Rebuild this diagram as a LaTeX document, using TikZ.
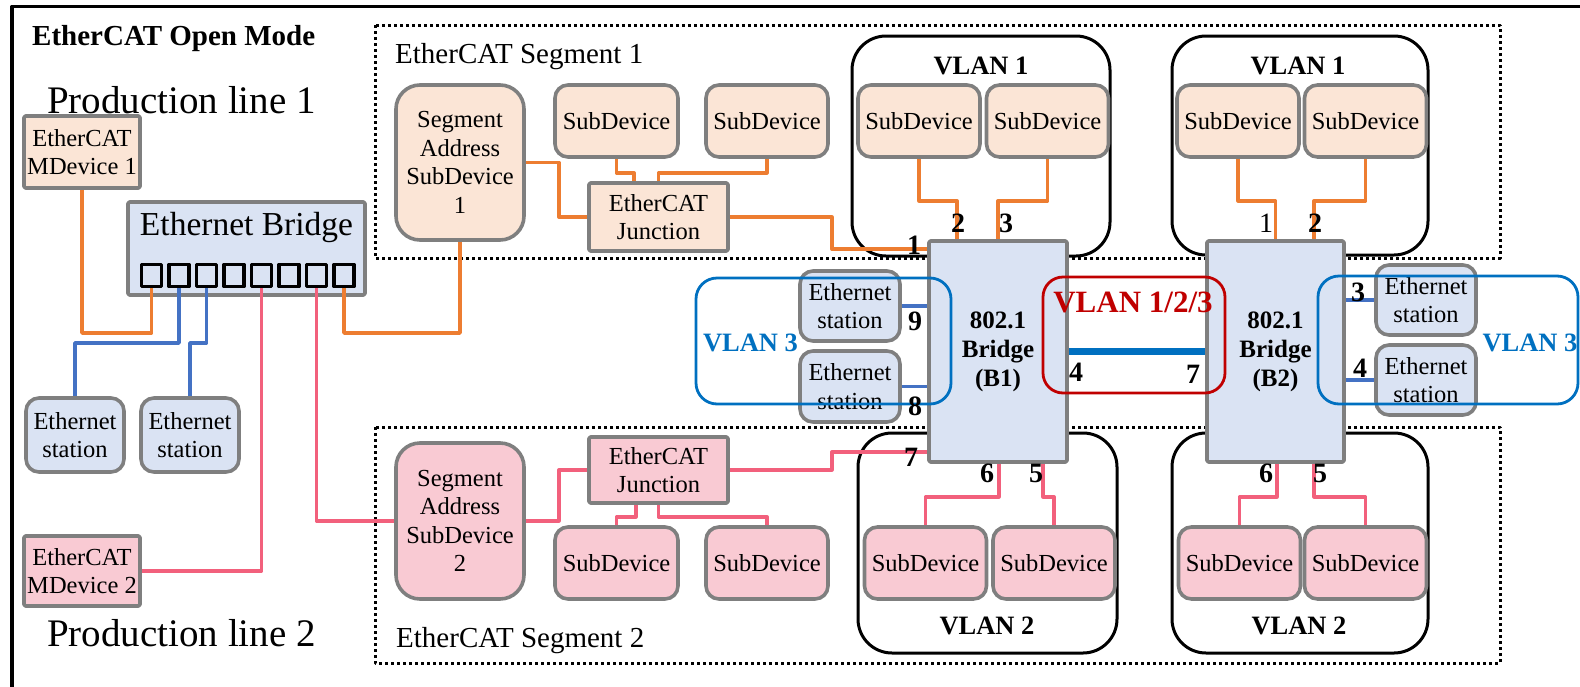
\documentclass[tikz,border=0pt]{standalone}
\usepackage{fontspec}
\setmainfont{Liberation Serif}
\usetikzlibrary{positioning}
\definecolor{olin}{HTML}{ED7D31}
\definecolor{blin}{HTML}{4472C4}
\definecolor{plin}{HTML}{F2607C}
\definecolor{ofil}{HTML}{FBE5D6}
\definecolor{bfil}{HTML}{DAE3F3}
\definecolor{pfil}{HTML}{F9CAD3}
\definecolor{gbrd}{HTML}{7F7F7F}
\definecolor{vblu}{HTML}{0070C0}
\definecolor{vred}{HTML}{C00000}
\begin{document}
\begin{tikzpicture}[x=1pt, y=-1pt, line join=round]
	\def\boxfont{\fontsize{24.5}{28.5}\selectfont}
	\def\brfont{\bfseries\fontsize{25}{29}\selectfont}
	\def\numfont{\bfseries\fontsize{28}{30}\selectfont}
	\def\vlanfont{\bfseries\fontsize{26.5}{30}\selectfont}
	\tikzset{dev/.style={draw=gbrd, line width=3.6pt, rounded corners=13pt, inner sep=0pt, align=center, font=\boxfont},
		sqdev/.style={dev, rounded corners=1.5pt},
		cnx/.style={line width=3.5pt},
		num/.style={inner sep=0pt, font=\numfont},
		lbl/.style={inner sep=0pt},
		vlan/.style={draw, line width=3pt, rounded corners=34pt, inner sep=0pt},
		cvlan/.style={line width=2.8pt, rounded corners=21pt, inner sep=0pt},
		seg/.style={line width=3pt, dash pattern=on 3pt off 3pt}}
	\useasboundingbox (0,0) rectangle (1580,686);
	\draw[line width=3.5pt] (12,700) -- (12,6.5) -- (1600,6.5);
	\draw[seg] (375,25) rectangle (1500,258);
	\draw[seg] (375,427) rectangle (1500,663);
	\node[lbl, font=\bfseries\fontsize{29}{32}\selectfont, anchor=base west] (ttl) at (32,45) {EtherCAT Open Mode};
	\node[lbl, font=\fontsize{39}{42}\selectfont, anchor=base west] (pl1) at (47,113) {Production line 1};
	\node[lbl, font=\fontsize{39}{42}\selectfont, anchor=base west] (pl2) at (47,646) {Production line 2};
	\node[lbl, font=\fontsize{29}{32}\selectfont, anchor=base west] (s1t) at (395,63) {EtherCAT Segment 1};
	\node[lbl, font=\fontsize{29}{32}\selectfont, anchor=base west] (s2t) at (396,647) {EtherCAT Segment 2};
	\node[sqdev, fill=ofil, minimum width=116pt, minimum height=72pt] (md1) at (82,152) {EtherCAT\\MDevice 1};
	\node[sqdev, fill=pfil, minimum width=116pt, minimum height=70pt] (md2) at (82,571) {EtherCAT\\MDevice 2};
	\node[sqdev, fill=bfil, minimum width=237pt, minimum height=93pt] (eb) at (246.5,248.5) {};
	\node[lbl, font=\fontsize{33.5}{36}\selectfont, anchor=base] (ebt) at (246.5,235) {Ethernet Bridge};
	\foreach \i in {1,...,8}
		\node[draw, line width=3.5pt, minimum width=20pt, minimum height=22pt, inner sep=0pt] (p\i) at ({151.5+27.5*(\i-1)},275.5) {};
	\node[dev, fill=bfil, minimum width=98pt, minimum height=74pt] (es1) at (75,435) {Ethernet\\station};
	\node[dev, fill=bfil, minimum width=98pt, minimum height=74pt] (es2) at (190,435) {Ethernet\\station};
	\node[dev, fill=ofil, rounded corners=24pt, minimum width=128pt, minimum height=155pt] (sa1) at (460,162.5) {Segment\\Address\\SubDevice\\1};
	\node[dev, fill=ofil, minimum width=123pt, minimum height=72pt] (sd1a) at (616.5,121) {SubDevice};
	\node[dev, fill=ofil, minimum width=122pt, minimum height=72pt] (sd1b) at (767,121) {SubDevice};
	\node[sqdev, fill=ofil, minimum width=139pt, minimum height=68pt] (jn1) at (658.5,217) {EtherCAT\\Junction};
	\node[dev, fill=pfil, rounded corners=24pt, minimum width=128pt, minimum height=156pt] (sa2) at (460,521) {Segment\\Address\\SubDevice\\2};
	\node[sqdev, fill=pfil, minimum width=139pt, minimum height=66pt] (jn2) at (658.5,470) {EtherCAT\\Junction};
	\node[dev, fill=pfil, minimum width=123pt, minimum height=72pt] (sd2a) at (616.5,563) {SubDevice};
	\node[dev, fill=pfil, minimum width=122pt, minimum height=72pt] (sd2b) at (767,563) {SubDevice};
	\node[vlan, minimum width=258pt, minimum height=220pt] (v1a) at (981,146) {};
	\node[vlan, minimum width=256pt, minimum height=219pt] (v1b) at (1300,145.5) {};
	\node[vlan, minimum width=259pt, minimum height=220pt] (v2a) at (987.5,543) {};
	\node[vlan, minimum width=256pt, minimum height=220pt] (v2b) at (1300,543) {};
	\node[lbl, font=\vlanfont] (v1at) at (981,66) {VLAN 1};
	\node[lbl, font=\vlanfont] (v1bt) at (1298,66) {VLAN 1};
	\node[lbl, font=\vlanfont] (v2at) at (987,626) {VLAN 2};
	\node[lbl, font=\vlanfont] (v2bt) at (1299,626) {VLAN 2};
	\foreach \n/\x/\y/\f in {v1sa/919/121/ofil, v1sb/1047.5/121/ofil, v1sc/1238/121/ofil, v1sd/1365.5/121/ofil, v2sa/925.5/563/pfil, v2sb/1054/563/pfil, v2sc/1239.5/563/pfil, v2sd/1365.5/563/pfil}
		\node[dev, fill=\f, minimum width=122pt, minimum height=72pt] (\n) at (\x,\y) {SubDevice};
	\node[sqdev, fill=bfil, minimum width=138pt, minimum height=221pt, font=\brfont] (b1) at (998,351.5) {802.1\\Bridge\\(B1)};
	\node[sqdev, fill=bfil, minimum width=137pt, minimum height=221pt, font=\brfont] (b2) at (1275.5,351.5) {802.1\\Bridge\\(B2)};
	\node[dev, fill=bfil, minimum width=100pt, minimum height=70pt] (es5) at (850,306) {Ethernet\\station};
	\node[dev, fill=bfil, minimum width=100pt, minimum height=71pt] (es6) at (850,386.5) {Ethernet\\station};
	\node[dev, fill=bfil, minimum width=100pt, minimum height=70pt] (es3) at (1426,300) {Ethernet\\station};
	\node[dev, fill=bfil, minimum width=100pt, minimum height=70pt] (es4) at (1426,380) {Ethernet\\station};
	\node[cvlan, draw=vblu, minimum width=255pt, minimum height=126pt] (v3a) at (823.5,341) {};
	\node[cvlan, draw=vblu, minimum width=260pt, minimum height=128pt] (v3b) at (1448,340) {};
	\node[cvlan, draw=vred, rounded corners=20pt, minimum width=182pt, minimum height=116pt] (v123) at (1134,335) {};
	\node[lbl, font=\vlanfont, text=vblu] (v3at) at (750.5,343) {VLAN 3};
	\node[lbl, font=\vlanfont, text=vblu] (v3bt) at (1530,343) {VLAN 3};
	\node[lbl, font=\bfseries\fontsize{31}{34}\selectfont, text=vred] (v123t) at (1133,302) {VLAN 1/2/3};
	\draw[cnx, olin] (p1.south) |- (md1.south |- 0,333) -- (md1.south);
	\draw[cnx, blin] (p2.south) |- (es1.north |- 0,343) -- (es1.north);
	\draw[cnx, blin] (p3.south) |- (es2.north |- 0,343) -- (es2.north);
	\draw[cnx, plin] (p5.south) |- (md2.east);
	\draw[cnx, plin] (p7.south) |- (sa2.west);
	\draw[cnx, olin] (p8.south) |- (sa1.south |- 0,333) -- (sa1.south);
	\draw[cnx, olin] (sa1.east) -- ++(33,0) |- (jn1.west);
	\draw[cnx, olin] (sd1a.south) -- ++(0,14) -| ([xshift=-24.5pt]jn1.north);
	\draw[cnx, olin] (sd1b.south) -- ++(0,14) -| (jn1.north);
	\draw[cnx, olin] (jn1.east) -- ++(102,0) |- (b1.north west |- 0,249);
	\draw[cnx, plin] (sa2.east) -- ++(33,0) |- (jn2.west);
	\draw[cnx, plin] ([xshift=-22.5pt]jn2.south) -- ++(0,12) -| (sd2a.north);
	\draw[cnx, plin] (jn2.south) -- ++(0,12) -| (sd2b.north);
	\draw[cnx, plin] (jn2.east) -- ++(102,0) |- (b1.south west |- 0,452);
	\draw[cnx, olin] (v1sa.south) -- ++(0,42) -| ([xshift=-41pt]b1.north);
	\draw[cnx, olin] (v1sb.south) -- ++(0,42) -| (b1.north);
	\draw[cnx, olin] (v1sc.south) -- ++(0,42) -| (b2.north);
	\draw[cnx, olin] (v1sd.south) -- ++(0,42) -| ([xshift=38.5pt]b2.north);
	\draw[cnx, plin] ([xshift=1pt]b1.south) -- ++(0,33) -| (v2sa.north);
	\draw[cnx, plin] ([xshift=45pt]b1.south) -- ++(0,33) -| (v2sb.north);
	\draw[cnx, plin] ([xshift=1.5pt]b2.south) -- ++(0,33) -| (v2sc.north);
	\draw[cnx, plin] ([xshift=38.5pt]b2.south) -- ++(0,33) -| (v2sd.north);
	\draw[cnx, blin] (es5.east) -- (es5.east -| b1.west);
	\draw[cnx, blin] (es6.east) -- (es6.east -| b1.west);
	\draw[cnx, blin] (b2.east |- es3.west) -- (es3.west);
	\draw[cnx, blin] (b2.east |- es4.west) -- (es4.west);
	\draw[line width=7pt, vblu] (b1.east) -- (b2.west);
	\foreach \t/\x/\y [count=\k] in {1/914/245, 2/958/223, 3/1006/223, 2/1315/223, 9/915/321, 8/915/406, 4/1076/372, 7/1193/374, 3/1358/292, 4/1360/368, 7/911/457, 6/987/473, 5/1036/473, 6/1266/473, 5/1320/473}
		\node[num] (nr\k) at (\x,\y) {\t};
	\node[lbl, font=\fontsize{28}{30}\selectfont] (nr0) at (1266,223) {1};
\end{tikzpicture}
\end{document}
